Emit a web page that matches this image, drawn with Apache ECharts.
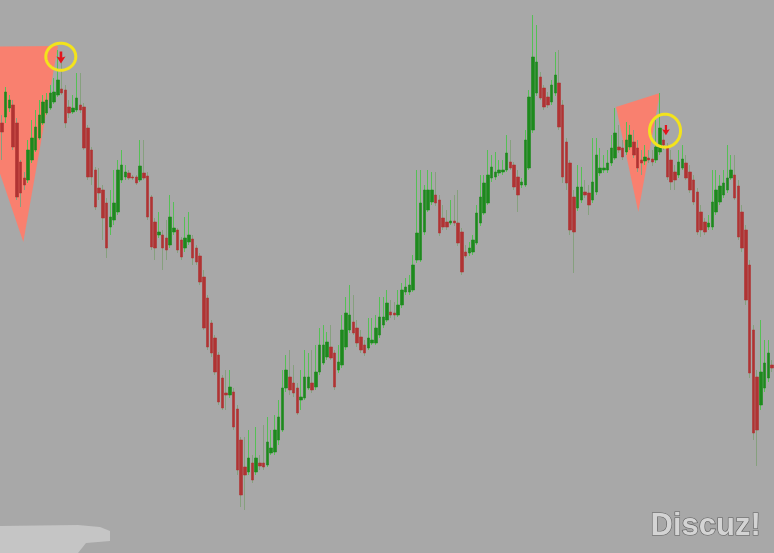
<!DOCTYPE html>
<html><head><meta charset="utf-8">
<script src="https://cdn.jsdelivr.net/npm/echarts@6/dist/echarts.min.js"></script>
<style>html,body{margin:0;padding:0;background:#a8a8a8}#c{width:774px;height:553px}</style>
</head><body><div id="c"></div>
<script>
// OHLC prices of each candle (arbitrary price units)
const openP = [
430,436,445,448,430,391,375,373,393,403,
415,430,440,445,451,458,464,463,446,441,
443,448,446,425,403,383,365,363,350,326,
333,341,373,376,380,376,376,373,380,377,
356,331,318,318,315,308,321,323,313,305,
311,314,305,297,276,255,230,215,198,175,
160,158,161,144,113,86,81,90,81,90,
90,88,100,101,113,123,165,176,170,165,
153,155,165,170,166,181,190,196,206,200,
183,188,206,223,231,225,216,208,205,210,
210,218,228,233,241,240,238,248,261,261,
263,293,293,321,343,351,358,353,335,331,
330,332,330,321,301,300,301,310,330,340,
350,375,376,380,381,383,391,388,376,368,
368,385,423,460,476,465,456,451,460,470,
448,411,390,356,345,353,361,360,353,361,
380,383,383,390,395,406,405,401,406,411,
405,393,392,395,394,393,401,413,405,393,
381,378,385,390,381,373,361,341,331,326,
326,341,351,358,363,375,378,367,341,323,
288,223,176,148,165,175,188];
const closeP = [
421,461,453,406,356,360,368,403,415,426,
438,451,453,460,461,473,460,430,440,445,
455,443,405,376,376,346,360,335,305,336,
350,383,388,381,375,375,370,387,375,336,
306,305,321,305,303,336,325,303,296,315,
318,295,291,271,225,206,200,181,151,145,
158,166,126,83,58,78,95,73,95,87,
86,111,105,123,136,165,183,163,160,140,
156,176,176,163,181,208,208,211,195,166,
191,223,240,238,220,210,203,200,215,213,
225,236,236,250,238,238,248,263,266,268,
288,320,350,363,363,363,350,320,326,326,
332,330,310,281,297,305,313,340,356,370,
378,386,381,383,383,400,385,366,358,371,
413,456,496,491,455,446,448,468,478,426,
376,370,323,321,366,366,358,348,371,398,
385,385,390,405,420,403,396,413,418,398,
385,390,396,393,391,406,425,408,376,371,
373,391,394,375,363,351,321,323,321,330,
351,363,367,370,375,383,355,316,305,253,
180,120,123,181,190,200,185];
const highP = [
438,466,458,453,435,393,381,413,433,443,
453,458,460,468,475,503,498,468,453,458,
480,480,450,428,406,386,385,368,355,363,
383,393,403,388,383,378,378,413,413,381,
358,335,341,323,333,358,351,325,316,336,
341,318,308,300,283,258,233,218,201,178,
183,183,165,148,116,116,123,98,126,98,
128,136,123,138,153,183,198,203,188,170,
183,203,200,203,208,225,228,221,228,203,
208,238,256,268,258,233,223,213,235,235,
238,256,256,263,253,251,263,270,275,278,
298,383,383,368,383,381,381,358,348,343,
353,358,363,325,308,311,318,348,378,378,
403,398,401,393,393,418,413,391,383,375,
423,463,538,528,481,468,461,473,501,503,
453,415,393,363,388,386,373,368,415,415,
405,398,403,418,445,428,413,431,428,423,
413,403,408,403,403,433,460,423,410,403,
388,403,408,398,388,378,365,348,335,338,
383,383,378,383,408,398,398,373,348,328,
293,228,183,233,213,213,193];
const lowP = [
393,430,441,403,353,346,363,370,390,401,
413,428,438,443,449,456,458,425,435,439,
441,440,403,373,368,343,353,313,295,318,
328,338,370,373,373,373,368,371,373,333,
303,293,315,283,293,305,318,300,293,301,
308,288,288,268,223,203,196,178,148,143,
143,155,123,78,46,43,78,70,78,83,
83,86,98,98,108,121,161,158,156,138,
143,153,163,160,163,178,188,193,193,163,
180,185,203,220,218,206,200,197,203,208,
208,215,225,231,235,233,236,245,258,258,
261,290,291,318,341,348,347,317,323,323,
328,327,307,278,295,297,298,308,327,338,
348,371,373,377,378,381,383,363,341,365,
366,383,420,457,453,443,445,448,457,423,
370,363,318,280,342,350,355,338,350,358,
377,380,380,387,393,400,393,398,403,395,
381,378,388,390,387,390,398,403,373,363,
363,375,383,373,360,348,318,316,318,323,
323,338,348,355,360,373,353,313,301,248,
175,113,87,143,161,171,181];
const categories = openP.map((_, i) => 'K' + (i + 1));

// annotation anchors in data space: [candle index, price]
const triangleA = [[-12, 506], [15.0, 507], [5.73, 311]];
const triangleB = [[164.25, 446], [176.0, 460], [170.2, 341]];
const circleCenters = [[15.76, 496.3], [177.36, 422.3]];
const arrowTops = [[15.8, 501.5], [177.6, 428]];

const circleRadii = [[15, 13.5], [15.5, 16.5]];
const arrowScale = [1, 0.85];

const wickData = openP.map((o, i) => [o, closeP[i], lowP[i], highP[i]]);
const bodyData = openP.map((o, i) => [o, closeP[i], Math.min(o, closeP[i]), Math.max(o, closeP[i])]);

const chart = echarts.init(document.getElementById('c'), null, {renderer: 'canvas'});
chart.setOption({
  backgroundColor: '#a8a8a8',
  animation: false,
  grid: {left: 0, right: 0, top: 0, bottom: 0},
  xAxis: [
    {type: 'category', data: categories, show: false, boundaryGap: true},
    {type: 'value', min: -0.5, max: categories.length - 0.5, show: false}
  ],
  yAxis: {type: 'value', min: 0, max: 553, show: false, splitLine: {show: false}},
  graphic: [
    {type: 'polygon', z: 1, shape: {points: [[0,526],[78,525],[100,527],[110,531],[110,541],[86,543],[78,553],[0,553]]}, style: {fill: '#c5c5c5'}},
    {type: 'text', z: 10, left: 650, top: 510, style: {text: 'Discuz!', font: 'bold 31px "Liberation Sans", Arial, sans-serif', fill: '#d4d4d4', stroke: '#5e5e5e', lineWidth: 1.2}}
  ],
  series: [
    {
      type: 'custom', xAxisIndex: 1, z: 1, clip: false, silent: true,
      data: [triangleA.flat(), triangleB.flat()],
      renderItem: (params, api) => {
        const pts = [0, 1, 2].map(k => api.coord([api.value(2 * k), api.value(2 * k + 1)]));
        return {type: 'polygon', shape: {points: pts}, style: {fill: '#f9806f'}};
      }
    },
    {
      type: 'candlestick', xAxisIndex: 0, z: 2, barWidth: 1, data: wickData, silent: true,
      itemStyle: {color: '#55c055', color0: '#86a07e', borderColor: '#55c055', borderColor0: '#86a07e', borderWidth: 1}
    },
    {
      type: 'candlestick', xAxisIndex: 0, z: 3, barWidth: 3, data: bodyData, silent: true,
      itemStyle: {color: '#1d8a1d', color0: '#b03333', borderColor: '#1d8a1d', borderColor0: '#b03333', borderWidth: 0.6}
    },
    {
      type: 'custom', xAxisIndex: 1, z: 4, clip: false, silent: true,
      data: circleCenters,
      renderItem: (params, api) => {
        const c = api.coord([api.value(0), api.value(1)]);
        const r = circleRadii[params.dataIndex];
        const pts = [];
        for (let k = 0; k < 64; k++) {
          const a = k / 64 * Math.PI * 2;
          pts.push([c[0] + r[0] * Math.cos(a), c[1] + r[1] * Math.sin(a)]);
        }
        return {type: 'polygon', shape: {points: pts}, style: {fill: 'none', stroke: '#f3e31c', lineWidth: 3}};
      }
    },
    {
      type: 'custom', xAxisIndex: 1, z: 5, clip: false, silent: true,
      data: arrowTops,
      renderItem: (params, api) => {
        const c = api.coord([api.value(0), api.value(1)]);
        const s = arrowScale[params.dataIndex];
        const x = c[0], y = c[1];
        const pts = [[x - 1.3*s, y], [x + 1.3*s, y], [x + 1.3*s, y + 6*s], [x + 4.5*s, y + 5*s], [x, y + 12*s], [x - 4.5*s, y + 5*s], [x - 1.3*s, y + 6*s]];
        return {type: 'polygon', shape: {points: pts}, style: {fill: '#e3141c'}};
      }
    }
  ]
});
</script>
</body></html>
